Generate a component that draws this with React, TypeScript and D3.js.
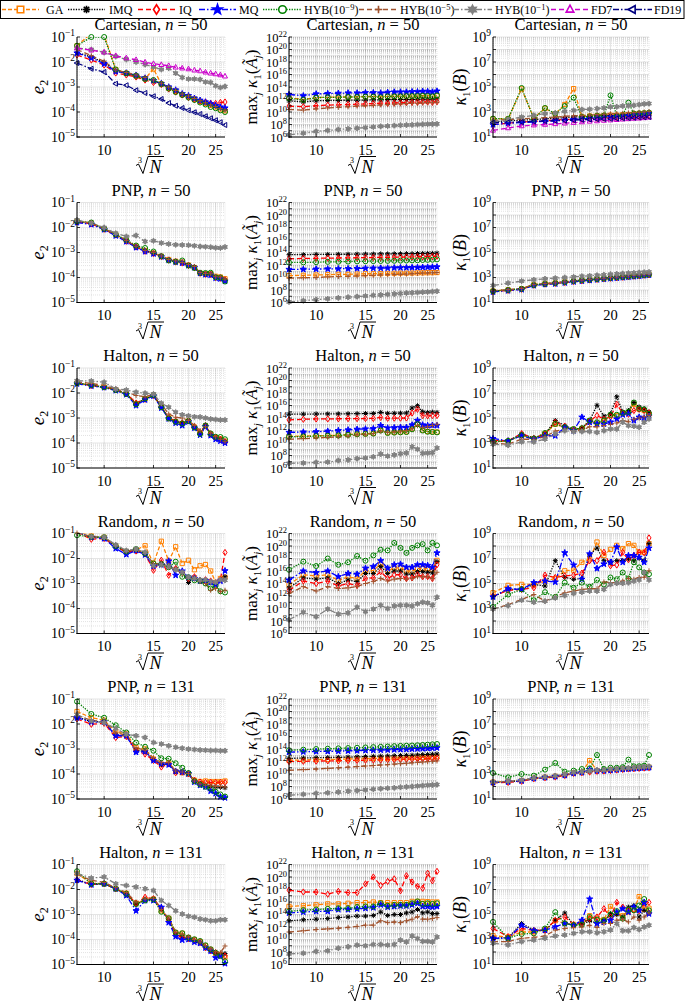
import React from "react";
import * as d3 from "d3";

// x positions (cube root of N)
const cubeRootN = [8, 9, 10, 11, 12, 13, 14, 15, 16, 17, 18, 19, 20, 21, 22, 23, 24, 25, 26, 27];
const xTicks = [10, 15, 20, 25];

// every panel: one row per series, in the order
// GA, IMQ, IQ, MQ, HYB(1e-9), HYB(1e-5), HYB(1e-1), FD7, FD19
// values are log10 of what is plotted

// ---- Cartesian, n = 50
const cartesianE2 = [
  [-1.35, -0.85, -0.92, -2.3, -2.45, -2.56, -2.67, -2.28, -2.88, -3.05, -3.17, -3.3, -3.38, -3.48, -3.58, -3.66, -3.74, -3.8, -3.88, -3.95],
  [-1.62, -1.8, -2.02, -2.36, -2.45, -2.55, -2.66, -2.76, -2.87, -3.02, -3.14, -3.28, -3.36, -3.46, -3.55, -3.62, -3.7, -3.76, -3.83, -3.9],
  [-1.72, -1.92, -2.12, -2.44, -2.52, -2.6, -2.72, -2.82, -2.9, -3.08, -3.2, -3.32, -3.42, -3.5, -3.56, -3.6, -3.65, -3.66, -3.62, -3.6],
  [-1.64, -1.84, -2.07, -2.38, -2.44, -2.53, -2.64, -2.74, -2.86, -3.0, -3.12, -3.27, -3.35, -3.45, -3.53, -3.6, -3.67, -3.74, -3.8, -3.84],
  [-1.35, -1.0, -1.0, -2.3, -2.45, -2.55, -2.68, -2.72, -2.88, -3.06, -3.2, -3.32, -3.42, -3.52, -3.62, -3.7, -3.8, -3.85, -3.93, -4.0],
  [-1.5, -1.75, -1.97, -2.32, -2.42, -2.52, -2.62, -2.72, -2.85, -3.0, -3.14, -3.28, -3.36, -3.46, -3.55, -3.63, -3.72, -3.78, -3.86, -3.93],
  [-1.45, -1.5, -1.62, -1.78, -1.9, -2.0, -2.1, -2.2, -2.3, -2.25, -2.45, -2.62, -2.68, -2.68, -2.7, -2.8, -2.82, -2.95, -3.02, -2.98],
  [-1.44, -1.53, -1.61, -1.75, -1.84, -1.91, -2.01, -2.07, -2.11, -2.15, -2.21, -2.25, -2.28, -2.33, -2.36, -2.41, -2.45, -2.48, -2.52, -2.57],
  [-2.04, -2.27, -2.4, -2.87, -2.93, -3.13, -3.24, -3.37, -3.48, -3.64, -3.75, -3.84, -3.93, -4.01, -4.08, -4.17, -4.25, -4.33, -4.41, -4.52],
];
const cartesianKA = [
  [12.3, 12.0, 12.3, 12.35, 12.4, 12.4, 12.45, 12.45, 12.5, 12.45, 12.5, 12.5, 12.55, 12.55, 12.55, 12.55, 12.6, 12.6, 12.55, 12.6],
  [11.8, 11.6, 11.8, 11.85, 11.85, 11.9, 11.9, 11.9, 11.95, 11.95, 12.0, 12.0, 12.0, 12.0, 12.0, 12.05, 12.05, 12.05, 12.05, 12.1],
  [10.95, 10.85, 11.0, 11.1, 11.15, 11.2, 11.25, 11.3, 11.35, 11.4, 11.4, 11.45, 11.5, 11.5, 11.55, 11.55, 11.6, 11.6, 11.55, 11.65],
  [12.8, 12.6, 12.9, 12.95, 13.0, 13.05, 13.05, 13.1, 13.1, 13.05, 13.15, 13.2, 13.2, 13.2, 13.25, 13.25, 13.3, 13.3, 13.2, 13.35],
  [12.2, 11.95, 12.3, 12.35, 12.35, 12.4, 12.4, 12.45, 12.45, 12.35, 12.5, 12.5, 12.5, 12.55, 12.55, 12.55, 12.6, 12.55, 12.5, 12.65],
  [10.4, 10.3, 10.5, 10.65, 10.75, 10.85, 10.95, 11.0, 11.05, 11.15, 11.2, 11.25, 11.3, 11.35, 11.4, 11.4, 11.45, 11.5, 11.5, 11.55],
  [6.35, 6.6, 6.9, 7.05, 7.2, 7.3, 7.4, 7.5, 7.6, 7.7, 7.75, 7.83, 7.88, 7.92, 7.95, 8.0, 8.03, 8.06, 8.08, 8.1],
];
const cartesianKB = [
  [2.45, 2.45, 4.85, 2.5, 3.3, 2.85, 3.6, 4.87, 2.62, 2.68, 2.7, 2.72, 2.75, 2.75, 2.78, 2.8, 2.85, 2.88, 2.9, 2.92],
  [2.2, 2.3, 2.35, 2.4, 2.45, 2.5, 2.55, 2.6, 2.62, 2.65, 2.68, 2.7, 2.72, 2.75, 2.78, 2.8, 2.82, 2.85, 2.87, 2.9],
  [2.0, 2.1, 2.2, 2.25, 2.3, 2.35, 2.4, 2.42, 2.45, 2.48, 2.5, 2.52, 2.55, 2.58, 2.6, 2.62, 2.64, 2.66, 2.68, 2.7],
  [1.99, 2.1, 2.15, 2.2, 2.25, 2.3, 2.35, 2.4, 2.45, 2.48, 2.52, 2.56, 2.6, 2.63, 2.66, 2.7, 2.74, 2.78, 2.82, 2.87],
  [2.47, 2.45, 4.92, 2.47, 3.32, 2.87, 3.48, 4.15, 2.6, 2.65, 2.7, 2.72, 4.33, 2.68, 2.73, 3.75, 2.87, 2.9, 2.92, 2.95],
  [2.33, 2.4, 2.45, 2.5, 2.55, 2.6, 2.65, 2.7, 2.72, 2.75, 2.8, 2.82, 2.85, 2.88, 2.9, 2.93, 2.96, 2.98, 3.0, 3.05],
  [2.2, 2.41, 2.6, 2.73, 2.87, 2.92, 3.05, 3.13, 3.2, 3.22, 3.27, 3.32, 3.4, 3.42, 3.48, 3.5, 3.53, 3.59, 3.64, 3.67],
  [1.53, 1.72, 1.88, 1.95, 2.0, 2.05, 2.1, 2.15, 2.2, 2.25, 2.28, 2.32, 2.35, 2.38, 2.42, 2.45, 2.48, 2.5, 2.53, 2.57],
  [2.15, 2.18, 2.2, 2.25, 2.28, 2.3, 2.32, 2.35, 2.38, 2.4, 2.42, 2.44, 2.46, 2.48, 2.5, 2.52, 2.54, 2.56, 2.58, 2.6],
];

// ---- PNP, n = 50
const pnp50E2 = [
  [-1.75, -1.82, -2.05, -2.28, -2.52, -2.75, -2.92, -3.02, -3.15, -3.28, -3.35, -3.38, -3.5, -3.6, -3.82, -3.85, -3.85, -3.95, -3.98, -4.05],
  [-1.77, -1.84, -2.06, -2.3, -2.53, -2.77, -2.93, -3.03, -3.16, -3.3, -3.36, -3.4, -3.5, -3.58, -3.82, -3.86, -3.87, -3.99, -4.02, -4.1],
  [-1.78, -1.85, -2.07, -2.3, -2.55, -2.78, -2.95, -3.04, -3.16, -3.3, -3.38, -3.42, -3.52, -3.6, -3.83, -3.87, -3.88, -4.0, -4.03, -4.1],
  [-1.8, -1.88, -2.08, -2.33, -2.56, -2.8, -2.96, -3.05, -3.17, -3.31, -3.38, -3.42, -3.52, -3.6, -3.83, -3.88, -3.9, -4.02, -4.05, -4.15],
  [-1.75, -1.8, -2.05, -2.28, -2.5, -2.72, -2.82, -2.96, -3.15, -3.32, -3.37, -3.32, -3.52, -3.62, -3.81, -3.82, -3.81, -3.99, -4.0, -4.16],
  [-1.74, -1.82, -2.04, -2.27, -2.52, -2.75, -2.92, -3.0, -3.14, -3.28, -3.34, -3.4, -3.48, -3.56, -3.8, -3.84, -3.85, -3.97, -3.98, -4.06],
  [-1.7, -1.83, -2.0, -2.23, -2.36, -2.32, -2.56, -2.53, -2.62, -2.66, -2.69, -2.7, -2.71, -2.73, -2.76, -2.77, -2.79, -2.81, -2.82, -2.78],
];
const pnp50KA = [
  [10.3, 10.35, 10.4, 10.45, 10.5, 10.5, 10.55, 10.6, 10.6, 10.62, 10.65, 10.67, 10.7, 10.7, 10.72, 10.74, 10.75, 10.77, 10.78, 10.8],
  [13.65, 13.65, 13.7, 13.7, 13.72, 13.72, 13.74, 13.75, 13.76, 13.78, 13.78, 13.8, 13.8, 13.82, 13.82, 13.84, 13.85, 13.86, 13.87, 13.9],
  [13.0, 13.05, 13.08, 13.1, 13.12, 13.14, 13.16, 13.18, 13.2, 13.22, 13.23, 13.25, 13.26, 13.28, 13.3, 13.32, 13.33, 13.35, 13.37, 13.4],
  [11.3, 11.32, 11.35, 11.38, 11.4, 11.42, 11.45, 11.48, 11.5, 11.5, 11.52, 11.55, 11.57, 11.58, 11.6, 11.62, 11.64, 11.66, 11.68, 11.7],
  [12.4, 12.42, 12.45, 12.5, 12.52, 12.55, 12.58, 12.6, 12.62, 12.64, 12.66, 12.68, 12.7, 12.72, 12.74, 12.76, 12.8, 12.82, 12.85, 12.9],
  [9.9, 9.95, 10.0, 10.1, 10.15, 10.2, 10.25, 10.3, 10.35, 10.4, 10.45, 10.5, 10.52, 10.55, 10.6, 10.65, 10.7, 10.72, 10.75, 10.8],
  [6.1, 6.3, 6.45, 6.6, 6.75, 6.85, 6.95, 7.05, 7.15, 7.22, 7.3, 7.37, 7.43, 7.5, 7.55, 7.6, 7.65, 7.7, 7.75, 7.8],
];
const pnp50KB = [
  [1.92, 2.02, 2.1, 2.42, 2.52, 2.57, 2.65, 2.72, 2.79, 2.84, 2.89, 2.93, 2.98, 3.02, 3.06, 3.1, 3.14, 3.18, 3.21, 3.25],
  [1.9, 2.0, 2.09, 2.41, 2.5, 2.55, 2.63, 2.71, 2.77, 2.82, 2.87, 2.92, 2.96, 3.0, 3.04, 3.08, 3.12, 3.16, 3.2, 3.23],
  [1.87, 1.97, 2.06, 2.38, 2.47, 2.53, 2.6, 2.68, 2.74, 2.8, 2.85, 2.9, 2.94, 2.98, 3.02, 3.06, 3.1, 3.14, 3.18, 3.21],
  [1.85, 1.95, 2.04, 2.36, 2.45, 2.5, 2.58, 2.66, 2.72, 2.78, 2.83, 2.88, 2.92, 2.96, 3.0, 3.04, 3.08, 3.12, 3.16, 3.2],
  [1.91, 2.01, 2.1, 2.4, 2.5, 2.56, 2.64, 2.72, 2.78, 2.83, 2.88, 2.92, 2.97, 3.01, 3.05, 3.09, 3.13, 3.17, 3.2, 3.24],
  [1.94, 2.03, 2.12, 2.43, 2.52, 2.57, 2.65, 2.73, 2.79, 2.85, 2.9, 2.94, 2.99, 3.03, 3.07, 3.11, 3.15, 3.19, 3.22, 3.26],
  [2.36, 2.55, 2.71, 2.82, 2.9, 2.95, 3.0, 3.05, 3.1, 3.14, 3.18, 3.22, 3.26, 3.29, 3.32, 3.35, 3.37, 3.4, 3.42, 3.44],
];

// ---- Halton, n = 50
const halton50E2 = [
  [-1.6, -1.69, -1.76, -1.87, -2.03, -2.44, -2.23, -2.09, -2.56, -3.0, -3.15, -3.22, -3.12, -3.36, -3.6, -3.32, -3.64, -3.78, -3.84, -3.93],
  [-1.61, -1.7, -1.77, -1.88, -2.03, -2.43, -2.24, -2.1, -2.56, -3.0, -3.14, -3.2, -3.12, -3.36, -3.6, -3.3, -3.66, -3.8, -3.87, -3.95],
  [-1.6, -1.7, -1.76, -1.87, -2.02, -2.4, -2.25, -2.1, -2.55, -3.0, -3.12, -3.2, -3.1, -3.35, -3.58, -3.3, -3.65, -3.78, -3.85, -3.95],
  [-1.63, -1.72, -1.78, -1.9, -2.06, -2.5, -2.27, -2.12, -2.6, -3.03, -3.2, -3.3, -3.15, -3.4, -3.68, -3.35, -3.7, -3.85, -3.92, -4.0],
  [-1.6, -1.68, -1.77, -1.88, -2.04, -2.45, -2.22, -2.08, -2.57, -3.02, -3.15, -3.22, -3.12, -3.38, -3.64, -3.3, -3.62, -3.75, -3.76, -3.85],
  [-1.55, -1.62, -1.7, -1.85, -1.95, -2.1, -2.15, -2.05, -2.44, -2.84, -2.97, -3.0, -3.1, -3.3, -3.5, -3.35, -3.6, -3.75, -3.85, -3.95],
  [-1.51, -1.52, -1.57, -1.84, -1.88, -1.97, -2.01, -2.04, -2.41, -2.57, -2.77, -2.87, -2.91, -2.95, -2.96, -3.0, -3.04, -3.06, -3.08, -3.08],
];
const halton50KA = [
  [11.1, 11.12, 11.18, 11.2, 11.25, 11.35, 11.45, 11.5, 11.55, 12.05, 11.65, 11.7, 11.75, 11.8, 12.25, 13.05, 12.05, 11.85, 11.8, 11.75],
  [14.6, 14.62, 14.64, 14.65, 14.66, 14.68, 14.7, 14.72, 14.72, 14.9, 14.75, 14.76, 14.78, 14.8, 15.6, 15.97, 15.0, 14.9, 14.95, 14.9],
  [13.7, 13.8, 13.85, 13.85, 13.88, 13.9, 13.9, 13.92, 13.93, 14.1, 13.95, 13.97, 13.98, 14.0, 14.8, 15.4, 14.4, 14.35, 14.4, 14.4],
  [11.7, 11.75, 11.8, 11.9, 12.0, 12.1, 12.2, 12.25, 12.3, 12.8, 12.4, 12.45, 12.5, 12.5, 12.9, 13.6, 12.9, 12.8, 12.85, 12.8],
  [11.0, 11.05, 11.1, 11.15, 11.2, 11.3, 11.4, 11.45, 11.5, 12.0, 11.6, 11.65, 11.7, 11.75, 12.2, 13.0, 12.0, 11.8, 11.75, 11.7],
  [10.6, 10.7, 10.8, 10.9, 11.0, 11.1, 11.3, 11.4, 11.5, 11.9, 11.7, 11.8, 11.9, 12.0, 12.3, 12.8, 12.5, 12.6, 12.8, 13.0],
  [6.75, 6.8, 6.9, 6.95, 7.2, 7.3, 7.5, 7.6, 7.8, 8.24, 7.9, 8.1, 8.3, 8.4, 9.4, 9.0, 8.35, 8.4, 8.45, 9.2],
];
const halton50KB = [
  [3.12, 3.15, 3.6, 3.35, 3.75, 4.5, 4.25, 4.1, 4.15, 4.75, 4.6, 4.75, 5.2, 5.2, 5.35, 5.45, 6.1, 5.7, 5.6, 5.3],
  [3.17, 3.17, 3.72, 3.4, 3.72, 4.8, 4.39, 4.07, 4.2, 4.8, 6.02, 5.15, 5.34, 6.7, 5.48, 5.6, 6.24, 5.88, 5.75, 5.48],
  [3.2, 3.17, 3.75, 3.38, 3.7, 4.66, 4.35, 4.05, 4.15, 4.75, 5.2, 4.9, 5.1, 6.1, 5.4, 5.3, 5.6, 5.7, 5.6, 5.42],
  [3.36, 3.17, 3.58, 3.31, 3.58, 3.58, 4.26, 3.99, 5.07, 4.66, 4.53, 4.53, 4.66, 4.93, 5.26, 5.34, 4.8, 5.07, 4.99, 5.15],
  [3.09, 3.17, 3.63, 3.36, 3.8, 4.53, 4.26, 4.12, 4.18, 4.8, 4.66, 4.8, 5.26, 5.26, 5.42, 5.5, 6.24, 5.75, 5.69, 5.34],
  [3.0, 2.9, 3.3, 3.3, 3.5, 3.95, 4.1, 4.0, 4.0, 4.3, 4.3, 4.4, 4.5, 4.6, 4.8, 4.7, 4.9, 5.0, 5.1, 5.2],
  [2.9, 2.82, 3.09, 3.09, 3.31, 3.72, 3.99, 3.9, 3.92, 3.92, 3.85, 3.99, 4.12, 4.12, 4.66, 4.39, 4.34, 4.26, 4.66, 4.93],
];

// ---- Random, n = 50
const random50E2 = [
  [-0.9, -1.1, -1.15, -1.5, -1.72, -1.65, -1.49, -2.2, -1.31, -2.1, -1.53, -2.2, -2.07, -2.45, -2.29, -2.24, -2.5, -2.95, -2.8, -2.75],
  [-0.95, -1.15, -1.17, -1.5, -1.75, -1.68, -1.8, -2.25, -2.2, -2.3, -2.42, -2.55, -2.96, -2.75, -2.85, -2.88, -2.95, -3.0, -2.88, -2.73],
  [-0.95, -1.23, -1.2, -1.52, -1.75, -1.7, -1.82, -2.47, -2.07, -2.67, -2.4, -2.55, -2.8, -2.73, -2.87, -2.85, -2.9, -2.98, -2.85, -1.76],
  [-0.92, -1.15, -1.2, -1.6, -1.84, -1.68, -1.85, -2.3, -2.25, -2.1, -2.67, -2.5, -2.75, -2.8, -2.9, -2.88, -2.95, -3.05, -2.9, -2.49],
  [-1.07, -1.13, -1.15, -1.5, -1.72, -1.62, -1.8, -2.2, -2.22, -2.35, -2.13, -2.73, -2.75, -2.87, -2.9, -3.0, -3.2, -3.09, -3.31, -3.36],
  [-0.98, -1.12, -1.16, -1.48, -1.7, -1.65, -1.78, -2.22, -2.2, -2.35, -2.45, -2.6, -2.78, -2.82, -2.92, -3.0, -3.27, -3.2, -3.33, -3.27],
  [-0.95, -1.12, -1.15, -1.45, -1.68, -1.62, -1.75, -2.29, -2.25, -2.33, -2.45, -2.55, -2.75, -2.8, -2.85, -2.85, -2.92, -2.95, -2.85, -2.87],
];
const random50KA = [
  [13.8, 15.4, 15.2, 15.4, 14.5, 15.05, 14.8, 16.0, 16.1, 17.1, 16.0, 16.5, 16.5, 16.0, 16.0, 16.4, 16.4, 16.4, 16.2, 17.7],
  [13.3, 14.9, 14.7, 14.9, 14.0, 14.55, 14.3, 15.6, 15.6, 16.7, 15.6, 16.0, 16.0, 15.5, 15.5, 15.9, 15.9, 15.8, 15.7, 17.5],
  [12.9, 14.4, 14.0, 14.4, 13.6, 14.0, 13.7, 14.8, 14.9, 15.9, 14.8, 15.4, 15.4, 14.8, 14.9, 15.4, 15.1, 15.1, 14.8, 17.0],
  [14.55, 16.0, 15.75, 16.0, 15.1, 15.6, 15.5, 16.45, 16.7, 17.65, 16.45, 17.0, 17.1, 16.6, 16.6, 17.0, 17.0, 16.9, 16.6, 18.9],
  [16.2, 17.5, 16.8, 18.0, 17.0, 17.4, 18.4, 17.65, 18.5, 19.4, 19.3, 20.5, 19.7, 18.9, 19.7, 20.1, 20.3, 19.3, 20.5, 20.1],
  [12.4, 13.5, 12.8, 13.5, 13.2, 13.3, 13.5, 14.0, 14.3, 14.8, 14.4, 14.7, 14.8, 14.7, 14.8, 15.1, 15.1, 15.1, 14.8, 15.8],
  [8.2, 9.4, 8.7, 9.9, 9.1, 9.3, 10.2, 9.5, 9.9, 10.5, 10.0, 10.4, 10.5, 10.5, 10.4, 10.75, 11.0, 10.9, 10.5, 11.8],
];
const random50KB = [
  [4.26, 4.85, 4.93, 4.93, 5.2, 5.4, 6.02, 6.07, 6.7, 6.97, 8.32, 7.24, 7.73, 8.05, 7.78, 8.19, 8.05, 7.5, 7.5, 8.19],
  [3.93, 4.53, 4.53, 4.93, 4.8, 6.83, 5.48, 5.34, 5.4, 7.3, 7.83, 6.83, 6.7, 6.83, 6.83, 6.97, 6.83, 7.02, 6.83, 8.19],
  [3.99, 4.45, 4.53, 4.66, 5.67, 5.48, 5.61, 5.67, 5.83, 6.83, 6.83, 7.5, 6.42, 6.48, 7.5, 6.91, 7.24, 7.5, 7.46, 8.65],
  [3.93, 4.58, 4.53, 5.07, 5.2, 5.12, 7.46, 6.48, 5.34, 7.37, 6.2, 6.56, 6.7, 7.92, 6.7, 7.24, 7.24, 7.1, 6.7, 7.83],
  [3.12, 4.12, 4.53, 3.66, 4.31, 3.93, 5.07, 4.66, 5.07, 4.74, 5.29, 4.93, 5.48, 5.34, 5.88, 5.4, 6.7, 6.29, 5.88, 5.75],
  [2.96, 3.31, 3.72, 4.12, 3.6, 3.93, 4.26, 4.39, 4.53, 4.58, 4.58, 5.12, 5.07, 5.07, 5.2, 5.4, 5.34, 5.48, 5.5, 6.02],
  [2.96, 3.23, 3.66, 3.5, 3.58, 3.85, 4.04, 4.2, 4.31, 4.39, 4.39, 4.53, 4.93, 5.02, 5.02, 5.07, 5.2, 5.29, 5.88, 5.29],
];

// ---- PNP, n = 131
const pnp131E2 = [
  [-1.5, -1.75, -1.85, -2.3, -2.4, -2.95, -3.0, -3.4, -3.6, -3.55, -3.9, -3.95, -4.0, -4.25, -4.3, -4.28, -4.3, -4.3, -4.3, -4.28],
  [-1.72, -1.9, -1.92, -2.45, -2.48, -3.05, -3.1, -3.42, -3.62, -3.6, -3.9, -3.93, -3.98, -4.3, -4.38, -4.45, -4.5, -4.52, -4.53, -4.55],
  [-1.79, -2.01, -1.97, -2.54, -2.5, -3.07, -3.2, -3.46, -3.72, -3.59, -3.95, -3.92, -3.99, -4.25, -4.32, -4.34, -4.34, -4.34, -4.34, -4.34],
  [-1.75, -1.92, -1.92, -2.47, -2.47, -3.13, -3.1, -3.46, -3.59, -3.63, -3.89, -3.92, -3.99, -4.32, -4.45, -4.51, -4.68, -4.78, -4.91, -4.95],
  [-1.1, -1.6, -1.75, -2.05, -2.34, -2.74, -2.91, -3.07, -3.37, -3.39, -3.57, -3.75, -3.96, -4.29, -4.42, -4.51, -4.58, -4.71, -4.82, -4.9],
  [-1.66, -1.85, -1.9, -2.35, -2.45, -2.95, -3.05, -3.35, -3.55, -3.55, -3.88, -3.92, -3.98, -4.28, -4.4, -4.45, -4.48, -4.5, -4.5, -4.52],
  [-1.62, -1.88, -1.95, -2.18, -2.41, -2.47, -2.54, -2.74, -2.8, -2.87, -2.93, -2.97, -3.0, -3.02, -3.04, -3.05, -3.06, -3.06, -3.07, -3.07],
];
const pnp131KA = [
  [12.2, 12.25, 12.3, 12.33, 12.36, 12.4, 12.42, 12.45, 12.48, 12.5, 12.52, 12.55, 12.58, 12.6, 12.62, 12.65, 12.68, 12.7, 12.72, 12.75],
  [12.5, 12.55, 12.6, 12.63, 12.66, 12.7, 12.74, 12.78, 12.82, 12.85, 12.88, 12.92, 12.95, 12.98, 13.0, 13.05, 13.1, 13.12, 13.15, 13.2],
  [12.0, 12.03, 12.06, 12.1, 12.12, 12.15, 12.18, 12.2, 12.23, 12.26, 12.28, 12.3, 12.33, 12.36, 12.38, 12.4, 12.42, 12.45, 12.48, 12.5],
  [13.5, 13.55, 13.6, 13.62, 13.66, 13.7, 13.74, 13.77, 13.8, 13.83, 13.86, 13.9, 13.93, 13.96, 14.0, 14.03, 14.06, 14.1, 14.15, 14.2],
  [13.8, 13.9, 14.0, 14.05, 14.1, 14.15, 14.2, 14.25, 14.3, 14.35, 14.4, 14.45, 14.5, 14.53, 14.56, 14.6, 14.65, 14.7, 14.75, 14.8],
  [10.6, 10.7, 10.8, 10.9, 11.0, 11.1, 11.2, 11.28, 11.36, 11.44, 11.5, 11.58, 11.65, 11.72, 11.8, 11.86, 11.92, 11.98, 12.04, 12.1],
  [6.6, 6.75, 6.9, 7.0, 7.12, 7.25, 7.35, 7.45, 7.55, 7.65, 7.72, 7.8, 7.88, 7.95, 8.0, 8.08, 8.15, 8.2, 8.25, 8.3],
];
const pnp131KB = [
  [2.35, 2.4, 2.48, 2.66, 2.74, 2.82, 2.93, 3.09, 3.14, 4.07, 3.28, 3.28, 3.33, 3.36, 3.41, 3.43, 3.46, 3.49, 3.52, 3.54],
  [2.33, 2.39, 2.47, 2.65, 2.73, 2.81, 2.92, 3.08, 3.13, 3.19, 3.27, 3.27, 3.32, 3.35, 3.4, 3.42, 3.45, 3.48, 3.51, 3.53],
  [2.3, 2.33, 2.42, 2.62, 2.7, 2.76, 2.88, 3.05, 3.1, 3.16, 3.22, 3.24, 3.28, 3.32, 3.36, 3.4, 3.42, 3.45, 3.48, 3.5],
  [2.32, 2.37, 2.45, 2.64, 2.72, 2.8, 2.9, 3.06, 3.12, 3.35, 3.25, 3.26, 3.3, 3.34, 3.38, 3.41, 3.44, 3.47, 3.5, 3.52],
  [3.08, 2.73, 3.0, 2.87, 3.35, 3.88, 3.19, 3.27, 3.4, 3.45, 4.52, 3.4, 3.5, 3.5, 3.55, 4.15, 3.61, 3.62, 3.67, 4.52],
  [2.34, 2.4, 2.48, 2.66, 2.74, 2.82, 2.93, 3.09, 3.14, 3.2, 3.28, 3.28, 3.33, 3.36, 3.41, 3.43, 3.46, 3.49, 3.52, 3.54],
  [2.38, 2.44, 2.52, 2.7, 2.78, 2.87, 2.98, 3.14, 3.19, 3.25, 3.32, 3.33, 3.38, 3.41, 3.46, 3.49, 3.52, 3.55, 3.58, 3.61],
];

// ---- Halton, n = 131
const halton131E2 = [
  [-1.36, -1.75, -1.77, -1.97, -2.15, -2.55, -2.4, -2.38, -2.85, -3.15, -3.72, -3.75, -3.92, -4.0, -4.08, -4.25, -4.4, -4.55, -4.6, -4.7],
  [-1.6, -1.8, -1.77, -1.97, -2.2, -2.6, -2.42, -2.38, -2.8, -3.2, -3.78, -3.9, -3.95, -4.05, -4.12, -4.3, -4.45, -4.55, -4.56, -4.56],
  [-1.62, -1.8, -1.77, -1.97, -2.18, -2.55, -2.31, -2.37, -2.75, -3.25, -3.79, -3.92, -3.97, -4.05, -4.12, -4.33, -4.45, -4.53, -4.6, -4.66],
  [-1.63, -1.81, -1.77, -1.97, -2.24, -2.85, -2.44, -2.44, -2.71, -3.32, -3.88, -4.02, -3.99, -4.1, -4.15, -4.33, -4.46, -4.73, -4.66, -4.96],
  [-1.27, -1.77, -1.77, -1.97, -2.17, -2.58, -2.44, -2.4, -2.89, -3.15, -3.72, -3.75, -3.92, -3.99, -4.06, -4.23, -4.39, -4.53, -4.66, -4.87],
  [-1.4, -1.63, -1.72, -1.93, -2.12, -2.5, -2.38, -2.35, -2.8, -3.15, -3.7, -3.8, -3.9, -4.0, -4.1, -4.25, -4.38, -4.5, -4.53, -4.26],
  [-1.36, -1.54, -1.5, -1.77, -1.84, -1.9, -1.97, -2.04, -2.44, -2.64, -2.85, -2.98, -3.07, -3.11, -3.18, -3.21, -3.25, -3.25, -3.21, -3.21],
];
const halton131KA = [
  [15.3, 15.4, 15.55, 15.7, 15.7, 15.8, 15.9, 15.9, 16.0, 15.9, 15.9, 15.9, 15.9, 15.9, 16.1, 16.1, 16.1, 16.05, 16.0, 16.0],
  [13.0, 13.15, 13.25, 13.35, 13.5, 13.6, 13.75, 13.75, 13.85, 14.4, 13.85, 14.0, 14.0, 14.25, 14.4, 14.8, 14.25, 14.4, 14.15, 14.15],
  [17.9, 17.6, 17.6, 17.25, 17.7, 17.5, 17.5, 18.9, 20.0, 18.65, 19.3, 19.7, 17.8, 20.2, 19.2, 18.5, 18.2, 20.6, 19.4, 20.9],
  [14.25, 14.4, 14.5, 14.5, 14.8, 14.8, 14.9, 15.0, 15.1, 15.55, 15.2, 15.3, 15.4, 15.4, 15.55, 15.8, 15.3, 15.3, 15.2, 15.3],
  [14.5, 14.7, 14.8, 14.9, 15.0, 15.0, 15.2, 15.3, 15.3, 15.8, 15.4, 15.55, 15.55, 15.55, 15.8, 16.1, 15.7, 15.8, 15.7, 15.8],
  [11.2, 11.4, 11.6, 11.7, 11.8, 11.95, 12.1, 12.3, 12.3, 13.0, 12.7, 12.8, 12.7, 13.0, 13.25, 13.65, 13.25, 13.25, 13.35, 13.5],
  [7.7, 7.8, 8.1, 8.2, 8.6, 8.85, 9.1, 9.0, 9.2, 9.2, 9.1, 9.2, 9.9, 9.6, 10.55, 10.15, 9.7, 9.7, 9.6, 10.4],
];
const halton131KB = [
  [3.3, 3.2, 3.6, 3.6, 3.8, 4.5, 4.3, 4.2, 4.4, 4.9, 4.7, 4.6, 5.64, 5.1, 4.9, 5.2, 5.4, 6.43, 5.4, 5.5],
  [3.1, 3.15, 4.28, 3.75, 3.7, 4.54, 5.12, 4.14, 4.2, 4.5, 4.3, 4.5, 5.06, 5.0, 4.8, 5.59, 5.72, 4.8, 5.33, 5.15],
  [3.88, 3.23, 3.88, 3.72, 3.75, 4.54, 4.8, 4.2, 4.3, 4.67, 4.8, 5.46, 4.8, 5.97, 5.59, 5.33, 5.35, 5.3, 5.9, 5.97],
  [3.1, 3.1, 4.14, 3.7, 3.75, 4.01, 4.28, 4.14, 4.54, 6.24, 4.28, 4.41, 4.54, 5.19, 5.46, 5.19, 5.59, 5.33, 5.97, 5.06],
  [4.41, 3.1, 3.44, 3.49, 3.88, 5.19, 4.28, 4.14, 4.2, 4.8, 4.59, 4.54, 5.01, 5.27, 4.67, 5.38, 5.33, 5.72, 6.24, 5.33],
  [2.83, 2.83, 3.1, 3.17, 3.28, 3.75, 3.88, 3.96, 4.01, 4.14, 3.96, 4.28, 4.28, 4.54, 4.59, 4.41, 4.8, 4.54, 4.8, 5.12],
  [2.7, 2.57, 2.83, 2.96, 3.1, 3.28, 3.36, 3.49, 3.62, 3.62, 3.54, 3.62, 3.75, 4.28, 3.7, 3.7, 3.96, 3.8, 4.01, 4.14],
];

const rows = [
  { grid: "Cartesian", n: "50", panels: [cartesianE2, cartesianKA, cartesianKB] },
  { grid: "PNP", n: "50", panels: [pnp50E2, pnp50KA, pnp50KB] },
  { grid: "Halton", n: "50", panels: [halton50E2, halton50KA, halton50KB] },
  { grid: "Random", n: "50", panels: [random50E2, random50KA, random50KB] },
  { grid: "PNP", n: "131", panels: [pnp131E2, pnp131KA, pnp131KB] },
  { grid: "Halton", n: "131", panels: [halton131E2, halton131KA, halton131KB] },
];

const series = [
  { label: "GA", color: "#FF8000", dash: "4,2", marker: "square", filled: false },
  { label: "IMQ", color: "#000000", dash: "1.3,1.3", marker: "asterisk", filled: false },
  { label: "IQ", color: "#FF0000", dash: "5,3", marker: "diamond", filled: false },
  { label: "MQ", color: "#0000FF", dash: "6,2,1.5,2", marker: "star", filled: true },
  { label: "HYB", exp: "−9", color: "#008000", dash: "1.3,1.3", marker: "circle", filled: false },
  { label: "HYB", exp: "−5", color: "#A0522D", dash: "5,3", marker: "plus", filled: false },
  { label: "HYB", exp: "−1", color: "#808080", dash: "6,2,1.5,2", marker: "hexagram", filled: true },
  { label: "FD7", color: "#CC00CC", dash: "5,3", marker: "triUp", filled: false },
  { label: "FD19", color: "#000080", dash: "6,2,1.5,2", marker: "triLeft", filled: false },
];

// layout
const W = 685;
const H = 1005;
const colLeft = [77, 289, 493];
const colRight = [225, 437, 649];
const rowTop0 = 37;
const rowStep = 165.5;
const plotH = 100;
const yExpRange = [[-5, -1], [6, 22], [1, 9]];
const yTickExps = [[-5, -4, -3, -2, -1], [6, 8, 10, 12, 14, 16, 18, 20, 22], [1, 3, 5, 7, 9]];
const yLabelX = [38, 252, 461];
const legendPos = [
  [2, 39, 46], [68, 105, 109], [138, 175, 179], [199, 236, 239], [263, 302, 304],
  [359, 398, 400], [453, 492, 495], [551, 589, 591], [613, 652, 654],
];
const FONT = "'Times New Roman', 'Liberation Serif', Times, serif";

function starPoints(n: number, R: number, r: number) {
  const pts: string[] = [];
  for (let k = 0; k < 2 * n; k++) {
    const a = -Math.PI / 2 + (k * Math.PI) / n;
    const rad = k % 2 === 0 ? R : r;
    pts.push(`${(rad * Math.cos(a)).toFixed(2)},${(rad * Math.sin(a)).toFixed(2)}`);
  }
  return "M" + pts.join("L") + "Z";
}

function markerPath(kind: string, r: number) {
  const d = r * 0.72;
  switch (kind) {
    case "square":
      return `M${-r * 0.85},${-r * 0.85}H${r * 0.85}V${r * 0.85}H${-r * 0.85}Z`;
    case "asterisk":
      return `M${-r},0H${r}M0,${-r}V${r}M${-d},${-d}L${d},${d}M${-d},${d}L${d},${-d}`;
    case "diamond":
      return `M0,${-r * 1.25}L${r * 0.8},0L0,${r * 1.25}L${-r * 0.8},0Z`;
    case "star":
      return starPoints(5, r * 1.3, r * 0.52);
    case "circle":
      return `M${r},0A${r},${r} 0 1,1 ${-r},0A${r},${r} 0 1,1 ${r},0Z`;
    case "plus":
      return `M${-r},0H${r}M0,${-r}V${r}`;
    case "hexagram":
      return starPoints(6, r * 1.1, r * 0.6);
    case "triUp":
      return `M0,${-r * 1.15}L${r},${r * 0.7}L${-r},${r * 0.7}Z`;
    case "triLeft":
      return `M${-r * 1.15},0L${r * 0.7},${-r}L${r * 0.7},${r}Z`;
    default:
      return "";
  }
}

const Pow = ({ base, exp, size, expSize }: { base: string; exp: string; size: number; expSize: number }) => (
  <>
    <tspan fontSize={size}>{base}</tspan>
    <tspan fontSize={expSize} dy={-size * 0.38}>{exp}</tspan>
  </>
);

function YLabel({ c, cy }: { c: number; cy: number }) {
  const x = yLabelX[c];
  if (c === 0) {
    return (
      <text transform={`translate(${x},${cy}) rotate(-90)`} textAnchor="middle" fontSize={19} dy="0.3em">
        <tspan fontStyle="italic">e</tspan>
        <tspan fontSize={12} dy={4}>2</tspan>
      </text>
    );
  }
  if (c === 1) {
    return (
      <text transform={`translate(${x},${cy}) rotate(-90)`} textAnchor="middle" fontSize={17} dy="0.3em">
        max<tspan fontSize={11} fontStyle="italic" dy={4}>j</tspan>
        <tspan dy={-4}> </tspan>
        <tspan fontStyle="italic">κ</tspan>
        <tspan fontSize={11} dy={4}>1</tspan>
        <tspan dy={-4}>(</tspan>
        <tspan fontStyle="italic">Ã</tspan>
        <tspan fontSize={11} fontStyle="italic" dy={4}>j</tspan>
        <tspan dy={-4}>)</tspan>
      </text>
    );
  }
  return (
    <text transform={`translate(${x},${cy}) rotate(-90)`} textAnchor="middle" fontSize={18} dy="0.3em">
      <tspan fontStyle="italic">κ</tspan>
      <tspan fontSize={11} dy={4}>1</tspan>
      <tspan dy={-4}>(</tspan>
      <tspan fontStyle="italic">B</tspan>
      <tspan>)</tspan>
    </text>
  );
}

function CubeRootLabel({ cx, yb }: { cx: number; yb: number }) {
  return (
    <g>
      <path
        d={`M${cx - 15},${yb - 7} L${cx - 12.5},${yb - 8.5} L${cx - 8},${yb + 1} L${cx - 3},${yb - 16} H${cx + 13}`}
        fill="none"
        stroke="#000"
        strokeWidth={1}
      />
      <text x={cx - 13} y={yb - 9.5} fontSize={8}>3</text>
      <text x={cx - 1.5} y={yb} fontSize={18} fontStyle="italic">N</text>
    </g>
  );
}

function Panel({ r, c, data, title, n }: { r: number; c: number; data: number[][]; title: string; n: string }) {
  const top = rowTop0 + r * rowStep;
  const bottom = top + plotH;
  const left = colLeft[c];
  const right = colRight[c];
  const [e0, e1] = yExpRange[c];
  const x = d3.scaleLog().domain([8, 27]).range([left, right]);
  const y = d3.scaleLog().domain([10 ** e0, 10 ** e1]).range([bottom, top]);
  const majors = d3.range(e0, e1 + 1).map((e) => 10 ** e);
  const minors = d3.range(e0, e1).flatMap((e) => d3.range(2, 10).map((m) => m * 10 ** e));
  const xMinor = cubeRootN.filter((v) => !xTicks.includes(v));
  const line = d3
    .line<number>()
    .x((_, i) => x(cubeRootN[i]))
    .y((v) => y(10 ** v));
  const clipId = `clip-${r}-${c}`;
  const cx = (left + right) / 2;
  const labSize = c === 1 ? 12.5 : 14;
  const expSize = c === 1 ? 8.5 : 9.5;

  return (
    <g>
      <defs>
        <clipPath id={clipId}>
          <rect x={left} y={top} width={right - left} height={plotH} />
        </clipPath>
      </defs>
      {/* grid */}
      {minors.map((v, i) => (
        <line key={"ym" + i} x1={left} x2={right} y1={y(v)} y2={y(v)} stroke="#262626" strokeOpacity={0.22} strokeWidth={0.6} strokeDasharray="1,1" />
      ))}
      {xMinor.map((v) => (
        <line key={"xm" + v} x1={x(v)} x2={x(v)} y1={top} y2={bottom} stroke="#262626" strokeOpacity={0.2} strokeWidth={0.6} strokeDasharray="1,1" />
      ))}
      {majors.map((v, i) => (
        <line key={"yM" + i} x1={left} x2={right} y1={y(v)} y2={y(v)} stroke="#262626" strokeOpacity={0.15} strokeWidth={0.8} />
      ))}
      {xTicks.map((v) => (
        <line key={"xM" + v} x1={x(v)} x2={x(v)} y1={top} y2={bottom} stroke="#262626" strokeOpacity={0.15} strokeWidth={0.8} />
      ))}
      {/* series */}
      <g clipPath={`url(#${clipId})`}>
        {data.map((vals, si) => (
          <path
            key={"l" + si}
            d={line(vals) || ""}
            fill="none"
            stroke={series[si].color}
            strokeWidth={1.3}
            strokeDasharray={series[si].dash}
          />
        ))}
      </g>
      {data.map((vals, si) => (
        <g key={"m" + si}>
          {vals.map((v, i) =>
            v >= e0 - 0.02 && v <= e1 + 0.02 ? (
              <path
                key={i}
                transform={`translate(${x(cubeRootN[i])},${y(10 ** v)})`}
                d={markerPath(series[si].marker, 2.5)}
                fill={series[si].filled ? series[si].color : "none"}
                stroke={series[si].color}
                strokeWidth={1}
              />
            ) : null
          )}
        </g>
      ))}
      {/* axes */}
      <line x1={left} x2={left} y1={top} y2={bottom + 0.5} stroke="#000" strokeWidth={1} />
      <line x1={left - 0.5} x2={right} y1={bottom} y2={bottom} stroke="#000" strokeWidth={1} />
      {majors.map((v, i) => (
        <line key={"yt" + i} x1={left} x2={left + 3} y1={y(v)} y2={y(v)} stroke="#000" strokeWidth={0.8} />
      ))}
      {xTicks.map((v) => (
        <line key={"xt" + v} x1={x(v)} x2={x(v)} y1={bottom} y2={bottom - 3} stroke="#000" strokeWidth={0.8} />
      ))}
      {/* tick labels */}
      {yTickExps[c].map((e) => (
        <text key={"yl" + e} x={left - 2} y={y(10 ** e) + 4.5} textAnchor="end">
          <Pow base="10" exp={e < 0 ? `−${-e}` : `${e}`} size={labSize} expSize={expSize} />
        </text>
      ))}
      {xTicks.map((v) => (
        <text key={"xl" + v} x={x(v)} y={bottom + 17.5} textAnchor="middle" fontSize={14.5}>
          {v}
        </text>
      ))}
      {/* title */}
      <text x={cx} y={top - 7} textAnchor="middle" fontSize={16.5}>
        {title},{" "}
        <tspan fontStyle="italic">n</tspan>
        <tspan> = {n}</tspan>
      </text>
      <YLabel c={c} cy={top + plotH / 2} />
      <CubeRootLabel cx={cx} yb={bottom + 35.5} />
    </g>
  );
}

function Legend() {
  return (
    <g>
      <rect x={0.5} y={0.5} width={W - 1.5} height={18} fill="#fff" stroke="#000" strokeWidth={1} />
      {series.map((s, i) => {
        const [x1, x2, tx] = legendPos[i];
        const mx = (x1 + x2) / 2;
        return (
          <g key={i}>
            <line x1={x1} x2={x2} y1={9.5} y2={9.5} stroke={s.color} strokeWidth={1.6} strokeDasharray={s.dash} />
            <path
              transform={`translate(${mx},9.5)`}
              d={markerPath(s.marker, 3.8)}
              fill={s.filled ? s.color : "#fff"}
              stroke={s.color}
              strokeWidth={1.6}
            />
            <text x={tx} y={13.5} fontSize={12}>
              {s.exp ? (
                <>
                  HYB(10<tspan fontSize={8.5} dy={-4}>{s.exp}</tspan>
                  <tspan dy={4}>)</tspan>
                </>
              ) : (
                s.label
              )}
            </text>
          </g>
        );
      })}
    </g>
  );
}

export default function App() {
  return (
    <svg
      width={W}
      height={H}
      viewBox={`0 0 ${W} ${H}`}
      style={{ position: "absolute", left: 0, top: 0, background: "#fff", fontFamily: FONT }}
    >
      <rect x={0} y={0} width={W} height={H} fill="#fff" />
      {rows.map((row, r) =>
        row.panels.map((data, c) => (
          <Panel key={`${r}-${c}`} r={r} c={c} data={data} title={row.grid} n={row.n} />
        ))
      )}
      <Legend />
    </svg>
  );
}
